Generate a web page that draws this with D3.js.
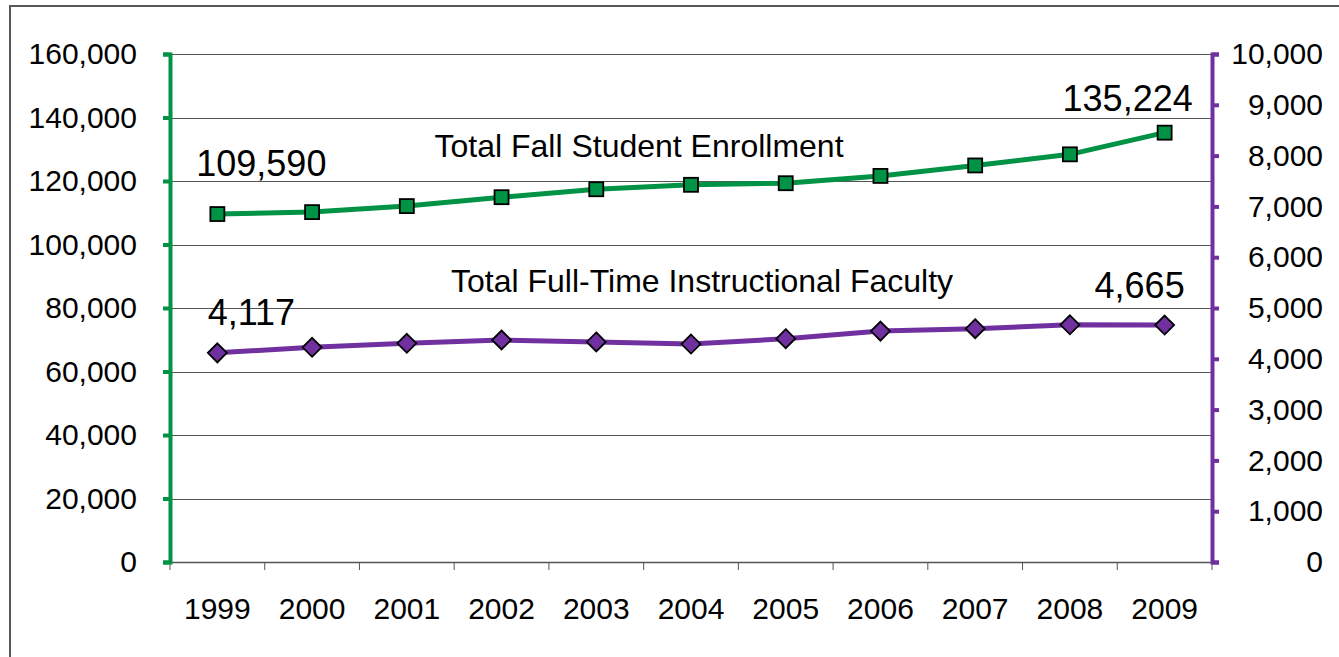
<!DOCTYPE html>
<html>
<head>
<meta charset="utf-8">
<script src="https://cdn.jsdelivr.net/npm/d3@7"></script>
<style>
  body { margin: 0; background: #fff; }
  text { font-family: "Liberation Sans", Arial, sans-serif; fill: #000; }
</style>
</head>
<body>
<div id="chart"></div>
<script>
// data
const years = ["1999", "2000", "2001", "2002", "2003", "2004", "2005", "2006", "2007", "2008", "2009"];
const enrollment = [109590, 110200, 112100, 114900, 117400, 118800, 119300, 121600, 124900, 128400, 135224];
const faculty = [4117, 4226, 4305, 4370, 4331, 4291, 4396, 4545, 4593, 4670, 4665];
const leftTicks = [0, 20000, 40000, 60000, 80000, 100000, 120000, 140000, 160000];
const rightTicks = [0, 1000, 2000, 3000, 4000, 5000, 6000, 7000, 8000, 9000, 10000];

const width = 1339,
  height = 657;
const margin = { top: 54, left: 170, right: 127, bottom: 95 };
const plotW = width - margin.left - margin.right,
  plotH = height - margin.top - margin.bottom;

const green = "#009245",
  purple = "#7030a0";

const svg = d3
  .select("#chart")
  .append("svg")
  .attr("width", width)
  .attr("height", height);

// outer frame
svg
  .append("rect")
  .attr("x", 10)
  .attr("y", 6)
  .attr("width", width)
  .attr("height", height)
  .attr("fill", "none")
  .attr("stroke", "#595959")
  .attr("stroke-width", 2);

const g = svg
  .append("g")
  .attr("transform", `translate(${margin.left},${margin.top})`);

const x = d3.scaleBand().domain(years).range([0, plotW]).padding(0);
const yL = d3.scaleLinear().domain([0, 160000]).range([plotH, 0]);
const yR = d3.scaleLinear().domain([0, 10000]).range([plotH, 0]);
const cx = (d) => x(d) + x.bandwidth() / 2;

// gridlines
g.selectAll(".grid")
  .data(leftTicks.filter((d) => d > 0))
  .enter()
  .append("line")
  .attr("x1", 0)
  .attr("x2", plotW)
  .attr("y1", (d) => Math.round(yL(d)) + 0.5)
  .attr("y2", (d) => Math.round(yL(d)) + 0.5)
  .attr("stroke", "#555")
  .attr("stroke-width", 1);

// x axis: labels centred, ticks at band edges
const xAxis = g
  .append("g")
  .attr("transform", `translate(0,${plotH})`)
  .call(d3.axisBottom(x).tickSize(0).tickPadding(36));
xAxis.select(".domain").attr("stroke", "#555").attr("stroke-width", 1.5);
xAxis.selectAll("text").style("font-size", "30px");

g.selectAll(".xtick")
  .data(years.map((d) => x(d)).concat([plotW]))
  .enter()
  .append("line")
  .attr("x1", (d) => d)
  .attr("x2", (d) => d)
  .attr("y1", plotH)
  .attr("y2", plotH + 8)
  .attr("stroke", "#555")
  .attr("stroke-width", 1);

// left axis
const leftAxis = g
  .append("g")
  .call(
    d3
      .axisLeft(yL)
      .tickValues(leftTicks)
      .tickSize(7)
      .tickPadding(26)
      .tickFormat(d3.format(","))
  );
leftAxis.select(".domain").attr("stroke", green).attr("stroke-width", 4);
leftAxis.selectAll(".tick line").attr("stroke", green).attr("stroke-width", 4);
leftAxis.selectAll("text").style("font-size", "30px");

// right axis
const rightAxis = g
  .append("g")
  .attr("transform", `translate(${plotW},0)`)
  .call(
    d3
      .axisRight(yR)
      .tickValues(rightTicks)
      .tickSize(7)
      .tickPadding(20)
      .tickFormat(d3.format(","))
  );
rightAxis.select(".domain").attr("stroke", purple).attr("stroke-width", 4);
rightAxis.selectAll(".tick line").attr("stroke", purple).attr("stroke-width", 4);
rightAxis
  .selectAll("text")
  .style("font-size", "30px")
  .attr("text-anchor", "end")
  .attr("x", 111);

// enrollment line
const lineL = d3
  .line()
  .x((d, i) => cx(years[i]))
  .y((d) => yL(d));
g.append("path")
  .datum(enrollment)
  .attr("d", lineL)
  .attr("fill", "none")
  .attr("stroke", green)
  .attr("stroke-width", 5);

g.selectAll(".sq")
  .data(enrollment)
  .enter()
  .append("rect")
  .attr("x", (d, i) => cx(years[i]) - 7)
  .attr("y", (d) => yL(d) - 7)
  .attr("width", 14)
  .attr("height", 14)
  .attr("fill", green)
  .attr("stroke", "#000")
  .attr("stroke-width", 1.8);

// faculty line
const lineR = d3
  .line()
  .x((d, i) => cx(years[i]))
  .y((d) => yR(d));
g.append("path")
  .datum(faculty)
  .attr("d", lineR)
  .attr("fill", "none")
  .attr("stroke", purple)
  .attr("stroke-width", 5);

g.selectAll(".dm")
  .data(faculty)
  .enter()
  .append("path")
  .attr("transform", (d, i) => `translate(${cx(years[i])},${yR(d)})`)
  .attr("d", "M0,-9.5L9.5,0L0,9.5L-9.5,0Z")
  .attr("fill", purple)
  .attr("stroke", "#000")
  .attr("stroke-width", 1.8);

// data labels
const last = years.length - 1;
const labels = [
  { text: d3.format(",")(enrollment[0]), x: cx(years[0]) + 44, y: yL(enrollment[0]) - 38 },
  { text: d3.format(",")(enrollment[last]), x: cx(years[last]) - 37, y: yL(enrollment[last]) - 22 },
  { text: d3.format(",")(faculty[0]), x: cx(years[0]) + 34, y: yR(faculty[0]) - 28 },
  { text: d3.format(",")(faculty[last]), x: cx(years[last]) - 25, y: yR(faculty[last]) - 27 },
];
g.selectAll(".dlabel")
  .data(labels)
  .enter()
  .append("text")
  .attr("x", (d) => d.x)
  .attr("y", (d) => d.y)
  .attr("text-anchor", "middle")
  .style("font-size", "36px")
  .text((d) => d.text);

// series names
g.append("text")
  .attr("x", 639 - margin.left)
  .attr("y", 157 - margin.top)
  .attr("text-anchor", "middle")
  .style("font-size", "32px")
  .text("Total Fall Student Enrollment");

g.append("text")
  .attr("x", 702 - margin.left)
  .attr("y", 292 - margin.top)
  .attr("text-anchor", "middle")
  .style("font-size", "32px")
  .text("Total Full-Time Instructional Faculty");
</script>
</body>
</html>
